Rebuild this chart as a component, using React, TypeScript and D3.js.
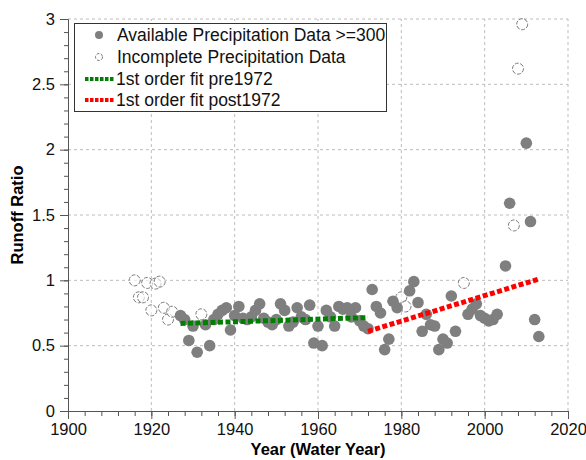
import React, { useEffect, useRef } from "react";
import * as d3 from "d3";

// filled markers: years with available precipitation data >= 300
const fullYears = [
  1927, 1928, 1929, 1930, 1931, 1933, 1934, 1935, 1936, 1937, 1938, 1939, 1940, 1941, 1942, 1943, 1944, 1945,
  1946, 1947, 1948, 1949, 1950, 1951, 1952, 1953, 1954, 1955, 1956, 1957, 1958, 1959, 1960, 1961, 1962, 1963,
  1964, 1965, 1966, 1967, 1968, 1969, 1970, 1971, 1972, 1973, 1974, 1975, 1976, 1977, 1978, 1979, 1982, 1983,
  1984, 1985, 1986, 1987, 1988, 1989, 1990, 1991, 1992, 1993, 1996, 1997, 1998, 1999, 2000, 2001, 2002, 2003,
  2005, 2006, 2010, 2011, 2012, 2013
];
const fullRatios = [
  0.73, 0.7, 0.54, 0.65, 0.45, 0.66, 0.5, 0.7, 0.74, 0.77, 0.79, 0.62, 0.73, 0.8, 0.71, 0.7, 0.72, 0.77,
  0.82, 0.71, 0.68, 0.66, 0.7, 0.82, 0.77, 0.65, 0.68, 0.79, 0.72, 0.7, 0.81, 0.52, 0.65, 0.5, 0.77, 0.72,
  0.65, 0.8, 0.78, 0.79, 0.72, 0.79, 0.69, 0.65, 0.63, 0.93, 0.8, 0.75, 0.47, 0.55, 0.84, 0.79, 0.92, 0.99,
  0.83, 0.61, 0.74, 0.66, 0.65, 0.47, 0.55, 0.52, 0.88, 0.61, 0.74, 0.78, 0.82, 0.73, 0.71, 0.69, 0.7, 0.74,
  1.11, 1.59, 2.05, 1.45, 0.7, 0.57
];

// open markers: incomplete precipitation data
const partYears = [1916, 1917, 1918, 1919, 1920, 1921, 1922, 1923, 1924, 1925, 1932, 1980, 1981, 1995, 2007, 2008, 2009];
const partRatios = [1.0, 0.87, 0.87, 0.98, 0.77, 0.975, 0.99, 0.79, 0.7, 0.76, 0.74, 0.87, 0.8, 0.98, 1.42, 2.62, 2.96];

// linear fits (end points)
const fitPreYears = [1927, 1972];
const fitPreRatios = [0.67, 0.715];
const fitPostYears = [1972, 2013];
const fitPostRatios = [0.61, 1.01];

const xTicks = [1900, 1920, 1940, 1960, 1980, 2000, 2020];
const yTicks = [0, 0.5, 1, 1.5, 2, 2.5, 3];

const legendLabels = [
  "Available Precipitation Data >=300",
  "Incomplete Precipitation Data",
  "1st order fit pre1972",
  "1st order fit post1972"
];

const W = 586;
const H = 460;
const FONT = "'Liberation Sans', Arial, sans-serif";

export default function App() {
  const ref = useRef<SVGSVGElement>(null);

  useEffect(() => {
    const svg = d3.select(ref.current);
    svg.selectAll("*").remove();

    const x = d3.scaleLinear().domain([1900, 2020]).range([68, 568]);
    const y = d3.scaleLinear().domain([0, 3]).range([411, 19]);

    const grid = svg.append("g");
    grid
      .selectAll("line.h")
      .data(yTicks.slice(1))
      .enter()
      .append("line")
      .attr("x1", x(1900))
      .attr("x2", x(2020))
      .attr("y1", (d) => y(d))
      .attr("y2", (d) => y(d))
      .attr("stroke", "#bdbdbd")
      .attr("stroke-width", 1)
      .attr("stroke-dasharray", "3,3");
    grid
      .selectAll("line.v")
      .data(xTicks.slice(1))
      .enter()
      .append("line")
      .attr("x1", (d) => x(d))
      .attr("x2", (d) => x(d))
      .attr("y1", y(0))
      .attr("y2", y(3))
      .attr("stroke", "#bdbdbd")
      .attr("stroke-width", 1)
      .attr("stroke-dasharray", "3,3");

    // points
    svg
      .append("g")
      .selectAll("circle")
      .data(partYears)
      .enter()
      .append("circle")
      .attr("cx", (d) => x(d))
      .attr("cy", (d, i) => y(partRatios[i]))
      .attr("r", 5.5)
      .attr("fill", "white")
      .attr("fill-opacity", 0.6)
      .attr("stroke", "#7a7a7a")
      .attr("stroke-width", 1)
      .attr("stroke-dasharray", "4,1.5");
    svg
      .append("g")
      .selectAll("circle")
      .data(fullYears)
      .enter()
      .append("circle")
      .attr("cx", (d) => x(d))
      .attr("cy", (d, i) => y(fullRatios[i]))
      .attr("r", 5.8)
      .attr("fill", "#7f7f7f");

    // fits, drawn over the points
    const line = d3
      .line<[number, number]>()
      .x((d) => x(d[0]))
      .y((d) => y(d[1]));
    svg
      .append("path")
      .attr("d", line(fitPreYears.map((v, i) => [v, fitPreRatios[i]] as [number, number])))
      .attr("fill", "none")
      .attr("stroke", "#008000")
      .attr("stroke-width", 5)
      .attr("stroke-dasharray", "5,2.5");
    svg
      .append("path")
      .attr("d", line(fitPostYears.map((v, i) => [v, fitPostRatios[i]] as [number, number])))
      .attr("fill", "none")
      .attr("stroke", "#ff0000")
      .attr("stroke-width", 5)
      .attr("stroke-dasharray", "5,2.5");

    // axes
    const xAxis = d3
      .axisBottom(x)
      .tickValues(d3.range(1900, 2021, 4))
      .tickSize(5)
      .tickFormat(() => "");
    const gx = svg.append("g").attr("transform", `translate(0,${y(0)})`).call(xAxis);
    gx.select(".domain").attr("stroke", "#555");
    gx.selectAll(".tick line").attr("stroke", "#555");
    const gx2 = svg
      .append("g")
      .attr("transform", `translate(0,${y(0)})`)
      .call(d3.axisBottom(x).tickValues(xTicks).tickSize(8).tickFormat(d3.format("d")));
    gx2.select(".domain").remove();
    gx2.selectAll(".tick line").attr("stroke", "#555");
    gx2.selectAll("text").attr("font-family", FONT).attr("font-size", 16.5).attr("fill", "#111").attr("dy", "0.8em");

    const yAxis = d3.axisLeft(y).tickValues(d3.range(0, 3.001, 0.1)).tickSize(4).tickFormat(() => "");
    const gy = svg.append("g").attr("transform", `translate(${x(1900)},0)`).call(yAxis);
    gy.select(".domain").attr("stroke", "#555");
    gy.selectAll(".tick line").attr("stroke", "#555");
    const gy2 = svg
      .append("g")
      .attr("transform", `translate(${x(1900)},0)`)
      .call(d3.axisLeft(y).tickValues(yTicks).tickSize(8).tickPadding(5).tickFormat((d) => String(d)));
    gy2.select(".domain").remove();
    gy2.selectAll(".tick line").attr("stroke", "#555");
    gy2.selectAll("text").attr("font-family", FONT).attr("font-size", 16.5).attr("fill", "#111");

    svg
      .append("text")
      .attr("x", 318)
      .attr("y", 455)
      .attr("text-anchor", "middle")
      .attr("font-family", FONT)
      .attr("font-weight", "bold")
      .attr("font-size", 16.5)
      .text("Year (Water Year)");
    svg
      .append("text")
      .attr("transform", `translate(23,${y(1.5)}) rotate(-90)`)
      .attr("text-anchor", "middle")
      .attr("font-family", FONT)
      .attr("font-weight", "bold")
      .attr("font-size", 16.5)
      .text("Runoff Ratio");

    // legend
    const lg = svg.append("g");
    lg.append("rect")
      .attr("x", 74.5)
      .attr("y", 23.5)
      .attr("width", 312)
      .attr("height", 88)
      .attr("fill", "white")
      .attr("stroke", "#333")
      .attr("stroke-width", 1);
    const rowY = [35, 57, 79, 100];
    lg.append("circle").attr("cx", 99).attr("cy", rowY[0]).attr("r", 4).attr("fill", "#7f7f7f");
    lg.append("circle")
      .attr("cx", 99)
      .attr("cy", rowY[1])
      .attr("r", 3.5)
      .attr("fill", "white")
      .attr("stroke", "#7a7a7a")
      .attr("stroke-dasharray", "3,1.5");
    lg.append("line")
      .attr("x1", 85)
      .attr("x2", 114)
      .attr("y1", rowY[2])
      .attr("y2", rowY[2])
      .attr("stroke", "#008000")
      .attr("stroke-width", 4)
      .attr("stroke-dasharray", "3.5,1.5");
    lg.append("line")
      .attr("x1", 85)
      .attr("x2", 114)
      .attr("y1", rowY[3])
      .attr("y2", rowY[3])
      .attr("stroke", "#ff0000")
      .attr("stroke-width", 4)
      .attr("stroke-dasharray", "3.5,1.5");
    lg.selectAll("text.l")
      .data(legendLabels)
      .enter()
      .append("text")
      .attr("x", (d, i) => (i < 2 ? 117 : 116))
      .attr("y", (d, i) => rowY[i])
      .attr("dy", "0.35em")
      .attr("font-family", FONT)
      .attr("font-size", 17.5)
      .attr("fill", "#111")
      .text((d) => d);
  }, []);

  return <svg ref={ref} width={W} height={H} style={{ position: "absolute", left: 0, top: 0, background: "white" }} />;
}
